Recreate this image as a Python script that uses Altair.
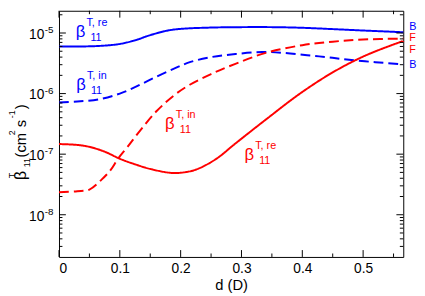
import altair as alt
import pandas as pd

# ---- data ----
d_bre = [0, 0.04, 0.07, 0.1, 0.129, 0.145, 0.177, 0.2, 0.25, 0.3, 0.35, 0.4, 0.45, 0.5, 0.566]
v_bre = [6.0e-6, 6.0e-6, 6.15e-6, 6.6e-6, 7.8e-6, 8.9e-6, 1.09e-5, 1.17e-5, 1.23e-5, 1.25e-5,
         1.25e-5, 1.22e-5, 1.16e-5, 1.1e-5, 1.03e-5]

d_bin = [0, 0.03, 0.065, 0.1, 0.13, 0.16, 0.19, 0.215, 0.25, 0.29, 0.334, 0.37, 0.408, 0.44, 0.473, 0.52, 0.566]
v_bin = [7.1e-7, 7.4e-7, 8.0e-7, 1.0e-6, 1.35e-6, 1.9e-6, 2.6e-6, 3.3e-6, 4.0e-6, 4.5e-6,
         4.85e-6, 4.7e-6, 4.3e-6, 4.0e-6, 3.65e-6, 3.3e-6, 3.03e-6]

d_fin = [0, 0.03, 0.05, 0.07, 0.085, 0.097, 0.113, 0.134, 0.161, 0.19, 0.215, 0.25, 0.29, 0.34, 0.4, 0.45, 0.5, 0.566]
v_fin = [2.35e-8, 2.45e-8, 2.6e-8, 3.8e-8, 5.5e-8, 8.4e-8, 1.33e-7, 2.5e-7, 5.2e-7, 9.5e-7,
         1.4e-6, 2.1e-6, 3.1e-6, 4.7e-6, 6.3e-6, 7.2e-6, 7.8e-6, 8.1e-6]

d_fre = [0, 0.03, 0.05, 0.075, 0.1, 0.125, 0.15, 0.185, 0.205, 0.226, 0.258, 0.29, 0.344, 0.398, 0.452, 0.505, 0.566]
v_fre = [1.47e-7, 1.42e-7, 1.32e-7, 1.1e-7, 8.4e-8, 6.8e-8, 5.7e-8, 4.9e-8, 5.0e-8, 5.6e-8,
         8.3e-8, 1.5e-7, 4.0e-7, 1.03e-6, 2.3e-6, 4.3e-6, 7.4e-6]

series_names = ["Bre", "Bin", "Fre", "Fin"]
series_colors = ["#0000ff", "#0000ff", "#ff0000", "#ff0000"]
series_dash = [[1, 0], [10, 5], [1, 0], [10, 5]]

x_tick_labels = [0, 0.1, 0.2, 0.3, 0.4, 0.5]
x_minor = [0.05, 0.15, 0.25, 0.35, 0.45, 0.55]
y_major = [1e-5, 1e-6, 1e-7, 1e-8]
y_exps = ["-5", "-6", "-7", "-8"]
y_minor = [m * 10.0 ** k for k in range(-9, -4) for m in range(2, 10)
           if 2.01e-9 <= m * 10.0 ** k <= 2.33e-5]

# curve labels: beta position, superscript, colour
lab_d = [0.0355, 0.0363, 0.1823, 0.3129]
lab_v = [1.046e-5, 1.40e-6, 3.15e-7, 9.75e-8]
lab_sup = ["T, re", "T, in", "T, in", "T, re"]
lab_col = ["#0000ff", "#0000ff", "#ff0000", "#ff0000"]

# right-side letters
side_txt = ["B", "F", "F", "B"]
side_v = [1.26e-5, 8.2e-6, 5.25e-6, 2.94e-6]
side_col = ["#0000ff", "#ff0000", "#ff0000", "#0000ff"]

W, H = 351, 251
FONT = "Liberation Sans"

rows = []
for name, ds, vs in [("Bre", d_bre, v_bre), ("Bin", d_bin, v_bin),
                     ("Fre", d_fre, v_fre), ("Fin", d_fin, v_fin)]:
    for a, b in zip(ds, vs):
        rows.append({"series": name, "d": a, "v": b})
df = pd.DataFrame(rows)

xscale = alt.Scale(domain=[0, 0.566], nice=False, zero=False)
yscale = alt.Scale(type="log", domain=[2.01e-9, 2.33e-5], nice=False)
xaxis = alt.Axis(values=x_tick_labels, format="~g", grid=False, ticks=False, domain=False,
                 labelFontSize=14, labelFont=FONT, labelColor="black", labelPadding=5,
                 title="d (D)", titleFont=FONT, titleFontSize=15, titleFontWeight="normal",
                 titleColor="black", titlePadding=2)

lines = alt.Chart(df).mark_line(strokeWidth=2, interpolate="catmull-rom").encode(
    x=alt.X("d:Q", scale=xscale, axis=xaxis),
    y=alt.Y("v:Q", scale=yscale, axis=None),
    color=alt.Color("series:N", scale=alt.Scale(domain=series_names, range=series_colors), legend=None),
    strokeDash=alt.StrokeDash("series:N", scale=alt.Scale(domain=series_names, range=series_dash), legend=None),
)

layers = [lines]

# y ticks (inward, both sides)
ymaj = pd.DataFrame({"t": y_major, "e": y_exps})
ymin = pd.DataFrame({"t": y_minor})
for data, ln in [(ymaj, 7), (ymin, 3.5)]:
    layers.append(alt.Chart(data).mark_rule(color="black", strokeWidth=1).encode(
        y=alt.Y("t:Q", scale=yscale, axis=None), x=alt.value(0), x2=alt.value(ln)))
    layers.append(alt.Chart(data).mark_rule(color="black", strokeWidth=1).encode(
        y=alt.Y("t:Q", scale=yscale, axis=None), x=alt.value(W), x2=alt.value(W - ln)))

# x ticks (inward, bottom and top)
xmaj = pd.DataFrame({"t": x_tick_labels})
xmin = pd.DataFrame({"t": x_minor})
for data, ln in [(xmaj, 7), (xmin, 3.5)]:
    layers.append(alt.Chart(data).mark_rule(color="black", strokeWidth=1).encode(
        x=alt.X("t:Q", scale=xscale, axis=xaxis), y=alt.value(H), y2=alt.value(H - ln)))
    layers.append(alt.Chart(data).mark_rule(color="black", strokeWidth=1).encode(
        x=alt.X("t:Q", scale=xscale, axis=xaxis), y=alt.value(0), y2=alt.value(ln)))

# y tick labels 10^-k
layers.append(alt.Chart(ymaj).mark_text(align="right", baseline="middle", dy=2, fontSize=14,
                                         font=FONT, color="black").encode(
    y=alt.Y("t:Q", scale=yscale, axis=None), x=alt.value(-15), text=alt.value("10")))
layers.append(alt.Chart(ymaj).mark_text(align="left", baseline="middle", dy=-3, dx=0.5, fontSize=10,
                                         font=FONT, color="black").encode(
    y=alt.Y("t:Q", scale=yscale, axis=None), x=alt.value(-15), text="e:N"))

# curve labels
labs = pd.DataFrame({"d": lab_d, "v": lab_v, "sup": lab_sup, "col": lab_col})
common = dict(x=alt.X("d:Q", scale=xscale, axis=xaxis), y=alt.Y("v:Q", scale=yscale, axis=None),
              color=alt.Color("col:N", scale=None))
layers.append(alt.Chart(labs).mark_text(align="center", baseline="middle", fontSize=17, font=FONT).encode(
    text=alt.value("β"), **common))
layers.append(alt.Chart(labs).mark_text(align="left", baseline="middle", fontSize=11, font=FONT,
                                         dx=6, dy=-9).encode(text="sup:N", **common))
layers.append(alt.Chart(labs).mark_text(align="left", baseline="middle", fontSize=11, font=FONT,
                                         dx=10, dy=6).encode(text=alt.value("11"), **common))

# side letters
side = pd.DataFrame({"txt": side_txt, "v": side_v, "col": side_col, "d": [0.5758] * 4})
layers.append(alt.Chart(side).mark_text(align="left", baseline="middle", fontSize=11, font=FONT).encode(
    x=alt.X("d:Q", scale=xscale, axis=xaxis), y=alt.Y("v:Q", scale=yscale, axis=None),
    color=alt.Color("col:N", scale=None), text="txt:N"))

# y axis title pieces (rotated)
one = pd.DataFrame({"a": [0]})
title_pieces = [("β", 21, 176, 16), ("T", 12.5, 176, 9), ("11", 27, 163, 9),
                ("(cm", 21, 145, 15), ("2", 12.5, 132.5, 9), ("s", 21, 123, 15),
                ("-1", 12.5, 113.5, 9), (")", 21, 106, 15)]
for txt, px, py, fs in title_pieces:
    layers.append(alt.Chart(one).mark_text(align="center", baseline="middle", angle=270,
                                            fontSize=fs, font=FONT, color="black").encode(
        x=alt.value(px - 60), y=alt.value(py - 8), text=alt.value(txt)))

chart = alt.layer(*layers).properties(
    width=W, height=H, autosize=alt.AutoSizeParams(type="none"),
    padding={"left": 52, "top": 0, "right": 14, "bottom": 37},
).configure_view(stroke="black", strokeWidth=1)

chart.save("out.html", embed_options={"renderer": "svg", "actions": False})
